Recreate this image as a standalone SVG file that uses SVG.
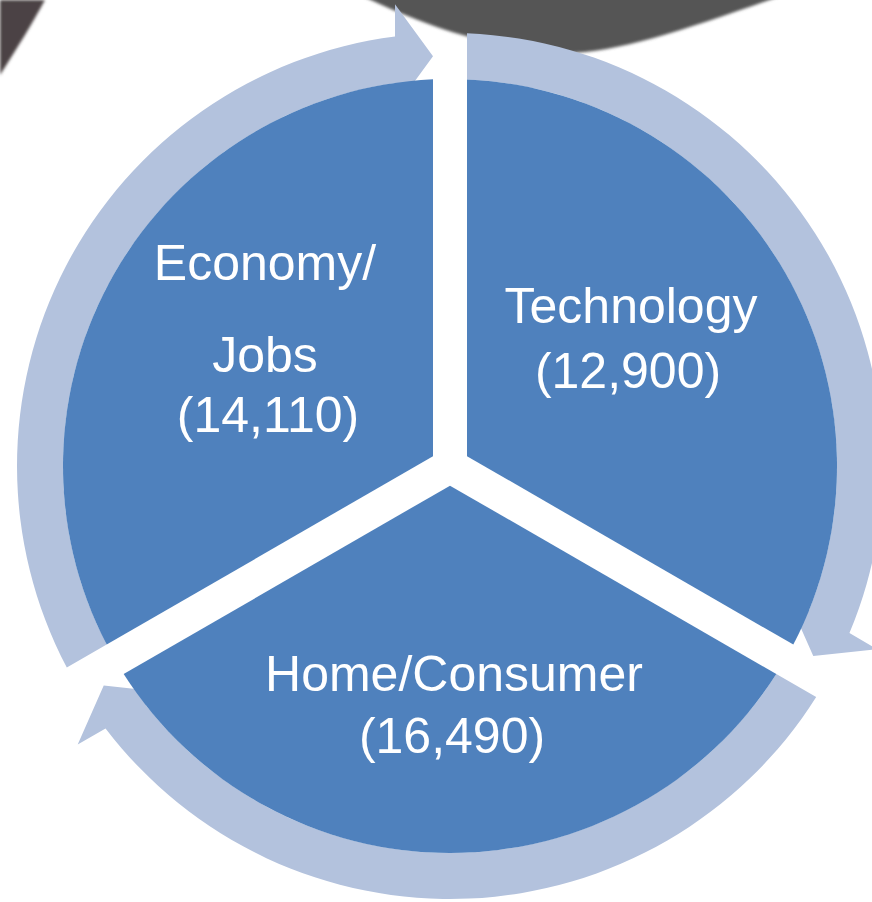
<svg xmlns="http://www.w3.org/2000/svg" width="872" height="902" viewBox="0 0 872 902">
  <defs>
    <style>
      .sector { fill: #4F81BD; }
      .ring { fill: #B3C2DD; }
      .label { fill: #FFFFFF; font-family: "Liberation Sans", Arial, sans-serif; font-size: 50px; text-anchor: middle; }
    </style>
    <filter id="soft" x="-10%" y="-30%" width="120%" height="160%">
      <feGaussianBlur stdDeviation="1.6"/>
    </filter>
    <!-- one segment of the cycle, centred on (450,466), spanning the upper-left third -->
    <path id="segment" d="M433,456.19 L433,79.37 A387,387 0 0 0 106.68,644.59 Z"/>
    <!-- curved arrow running clockwise round the same third -->
    <path id="curved-arrow" d="M66.81,667.61 A433,433 0 0 1 395,36.51 L395,4.35 L433,56.35 L395,108.35 L395,82.93 A387,387 0 0 0 106.68,644.59 Z"/>
  </defs>

  <rect width="872" height="902" fill="#FFFFFF"/>

  <!-- dark backdrop shapes along the top edge -->
  <g id="backdrop">
    <path d="M0,0 L45,0 C32,24 16,50 0,75 Z" fill="#4B4244" filter="url(#soft)"/>
    <path d="M354,-8 C420,24 480,46 560,53 C615,55 690,28 792,-8 Z" fill="#545454" filter="url(#soft)"/>
  </g>

  <!-- curved arrows between the segments -->
  <g id="connectors" class="ring">
    <use href="#curved-arrow"/>
    <use href="#curved-arrow" transform="rotate(120 450 466)"/>
    <use href="#curved-arrow" transform="rotate(240 450 466)"/>
  </g>

  <g id="node-economy">
    <use href="#segment" class="sector"/>
    <text class="label" x="265" y="280">Economy/</text>
    <text class="label" x="265" y="372">Jobs</text>
    <text class="label" x="268" y="432">(14,110)</text>
  </g>

  <g id="node-technology">
    <use href="#segment" class="sector" transform="rotate(120 450 466)"/>
    <text class="label" x="631" y="323">Technology</text>
    <text class="label" x="628" y="388">(12,900)</text>
  </g>

  <g id="node-home">
    <use href="#segment" class="sector" transform="rotate(240 450 466)"/>
    <text class="label" x="454" y="691">Home/Consumer</text>
    <text class="label" x="452" y="753">(16,490)</text>
  </g>
</svg>
